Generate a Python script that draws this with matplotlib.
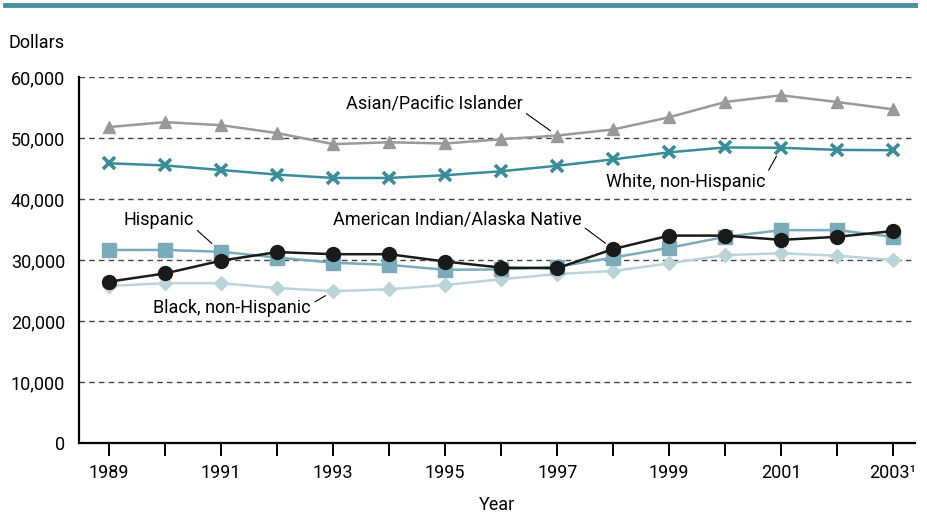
import numpy as np
import matplotlib.pyplot as plt
from matplotlib.ticker import FuncFormatter

plt.rcParams['font.family'] = ['Roboto', 'DejaVu Sans']

years = np.arange(1989, 2004)
tick_labels = ['1989', '1991', '1993', '1995', '1997', '1999', '2001', '2003¹']

asian = [51800, 52600, 52100, 50800, 49000, 49300, 49100, 49800, 50400,
         51400, 53400, 55900, 57000, 55900, 54700]
white = [45850, 45500, 44750, 44000, 43450, 43450, 43900, 44550, 45450,
         46500, 47650, 48450, 48400, 48050, 48000]
hispanic = [31650, 31650, 31350, 30400, 29550, 29200, 28400, 28450, 28900,
            30400, 32000, 33800, 34900, 34900, 33800]
aian = [26450, 27800, 29900, 31300, 30950, 30950, 29750, 28750, 28650,
        31800, 34000, 34000, 33300, 33800, 34750]
black = [25750, 26200, 26200, 25400, 24900, 25200, 25900, 26850, 27700,
         28200, 29450, 30800, 31100, 30700, 30000]

fig = plt.figure(figsize=(9.27, 5.16), dpi=100)
ax = fig.add_axes([79/927, 1-443/516, 836/927, 366/516])

ax.plot(years, black, color='#bcd3da', lw=1.8, marker='D', ms=7, zorder=3)
ax.plot(years, hispanic, color='#7aabb9', lw=1.8, marker='s', ms=9.5, zorder=4)
ax.plot(years, aian, color='#1a1a1a', lw=1.8, marker='o', ms=10, zorder=5)
ax.plot(years, white, color='#3a8c9b', lw=1.8, marker='x', ms=8, mew=2.6, zorder=4)
ax.plot(years, asian, color='#999999', lw=1.8, marker='^', ms=9, zorder=4)

ax.set_xlim(1988.46, 2003.39)
ax.set_ylim(0, 60000)
ax.set_yticks(np.arange(0, 60001, 10000))
ax.yaxis.set_major_formatter(FuncFormatter(lambda v, p: f'{int(v):,}'))
ax.set_xticks(years)
ax.set_xticklabels([tick_labels[i // 2] if i % 2 == 0 else '' for i in range(len(years))])
for v in range(10000, 60001, 10000):
    ax.axhline(v, color='#444444', lw=1, ls=(0, (4, 3)), zorder=1)

for s in ['top', 'right']:
    ax.spines[s].set_visible(False)
ax.spines['left'].set_linewidth(1.6)
ax.spines['bottom'].set_linewidth(1.6)
ax.tick_params(axis='y', length=0, labelsize=13, pad=10)
ax.tick_params(axis='x', length=9, width=1.4, labelsize=13, pad=6)

ax.set_xlabel('Year', fontsize=13, labelpad=10)
fig.text(8/927, 1-43/516, 'Dollars', fontsize=13, va='center', ha='left')

# top rule
fig.add_artist(plt.Line2D([5/927, 915/927], [1-5/516, 1-5/516], color='#4a90a0', lw=3.5))

def label(text, i, series, dx, dy, rel, shrink):
    ax.annotate(text, xy=(years[i], series[i]), xytext=(dx, dy),
                textcoords='offset points', ha='right', va='center', fontsize=13,
                arrowprops=dict(arrowstyle='-', color='black', lw=0.8,
                                shrinkA=1, shrinkB=shrink, relpos=rel), zorder=6)

label('Asian/Pacific Islander', 8, asian, -25, 23, (1, 0.1), 6)
label('White, non-Hispanic', 12, white, -11.5, -24.5, (1, 0.8), 7)
label('Hispanic', 2, hispanic, -20, 23, (1, 0.1), 9)
label('American Indian/Alaska Native', 9, aian, -23, 21, (1, 0.2), 7)
label('Black, non-Hispanic', 4, black, -16, -12, (1, 0.7), 6.5)

fig.savefig('out.png', dpi=100)
